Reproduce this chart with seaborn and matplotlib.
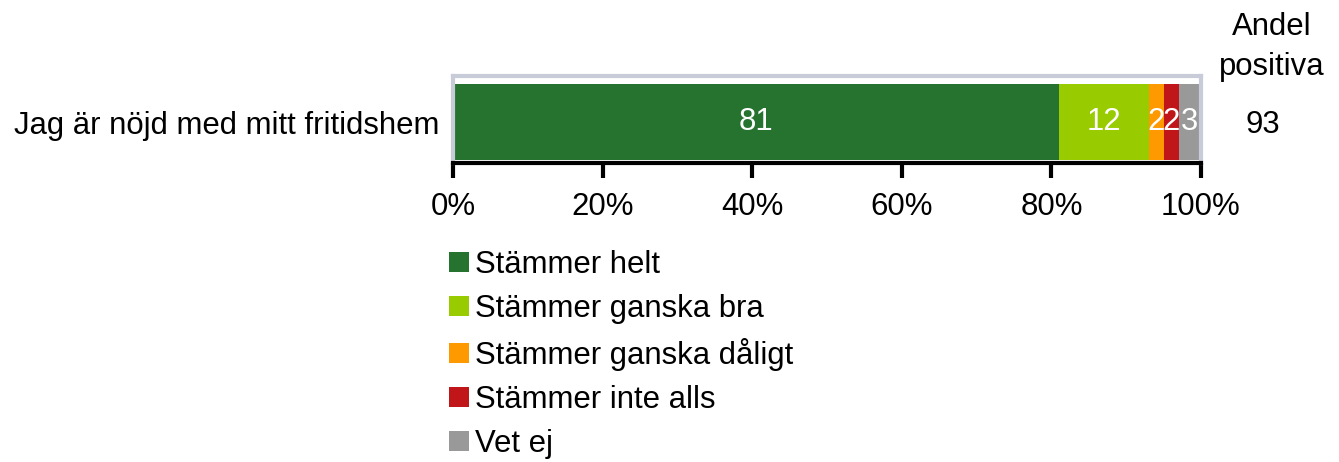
import numpy as np
import pandas as pd
import matplotlib
matplotlib.use("Agg")
import matplotlib.pyplot as plt
import seaborn as sns
from matplotlib.patches import Patch

# Data
question = "Jag är nöjd med mitt fritidshem"
categories = ["Stämmer helt", "Stämmer ganska bra", "Stämmer ganska dåligt",
              "Stämmer inte alls", "Vet ej"]
values = [81, 12, 2, 2, 3]
colors = ["#267330", "#99CC00", "#FF9900", "#C0161A", "#999999"]
andel_positiva = 93
xticks = [0, 20, 40, 60, 80, 100]

sns.set_style("white")
plt.rcParams["font.family"] = ["Liberation Sans", "DejaVu Sans"]
plt.rcParams["text.color"] = "black"
fs = 22.4

fig = plt.figure(figsize=(13.39, 4.62), dpi=100)
ax = fig.add_axes([453 / 1339, 1 - 163 / 462, 748 / 1339, 87 / 462])

# Stacked bars: draw cumulative totals from the back
cum = np.cumsum(values)
for i in reversed(range(len(values))):
    df = pd.DataFrame({"q": [question], "v": [cum[i]]})
    sns.barplot(data=df, x="v", y="q", orient="h", color=colors[i],
                saturation=1, width=0.87, ax=ax, edgecolor="none")

# Segment labels
starts = cum - np.array(values)
for s, v in zip(starts, values):
    ax.text(s + v / 2, 0, str(v), ha="center", va="center", color="white",
            fontsize=fs)

ax.set_xlim(0, 100)
ax.set_ylim(0.47, -0.53)
ax.set_xticks(xticks)
ax.set_xticklabels([f"{t}%" for t in xticks], fontsize=fs)
ax.tick_params(axis="x", direction="out", length=11, width=3, pad=10,
               bottom=True, colors="black", labelcolor="black")
ax.tick_params(axis="y", length=0, labelsize=fs, pad=10, labelcolor="black")
ax.set_xlabel("")
ax.set_ylabel("")

for side in ["left", "top", "right"]:
    ax.spines[side].set_visible(True)
    ax.spines[side].set_color("#C8CCD8")
    ax.spines[side].set_linewidth(3)
ax.spines["bottom"].set_color("black")
ax.spines["bottom"].set_linewidth(3)

# Andel positiva column
fig.text(1272 / 1339, 1 - 47 / 462, "Andel\npositiva", ha="center",
         va="center", fontsize=fs, linespacing=1.45)
fig.text(1263 / 1339, 1 - 125 / 462, str(andel_positiva), ha="center",
         va="center", fontsize=fs)

handles = [Patch(facecolor=c, edgecolor="none") for c in colors]
fig.legend(handles, categories, loc="upper left",
           bbox_to_anchor=(449 / 1339, 1 - 250 / 462), frameon=False,
           fontsize=fs, handlelength=0.65, handleheight=0.65,
           handletextpad=0.2, labelspacing=0.45, borderpad=0,
           borderaxespad=0, labelcolor="black")

fig.savefig("out.png", dpi=100)
